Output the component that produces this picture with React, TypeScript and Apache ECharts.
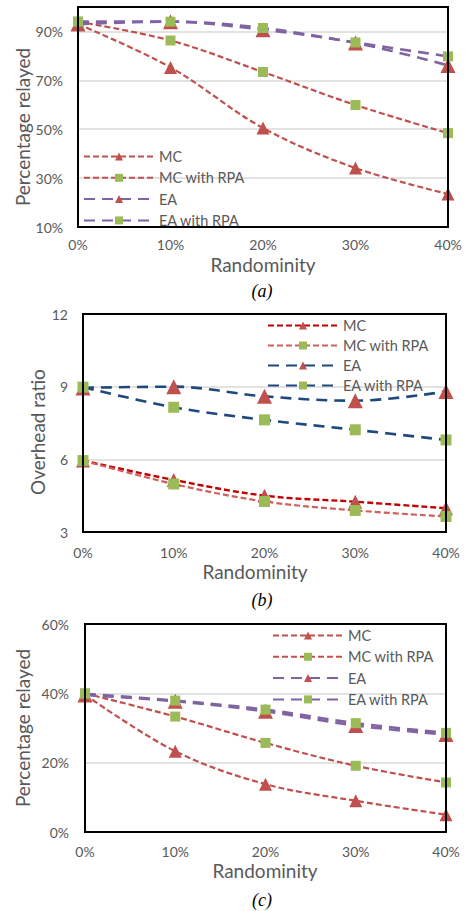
import React, { useEffect, useRef } from "react";
import * as echarts from "echarts";

const categories = ["0%", "10%", "20%", "30%", "40%"];
const seriesNames = ["MC", "MC with RPA", "EA", "EA with RPA"];

// (a) Percentage relayed
const aMC = [93, 75.3, 50.5, 34.1, 23.5];
const aMCRPA = [94, 86.3, 73.4, 59.9, 48.4];
const aEA = [93, 94, 90.7, 85.3, 76.1];
const aEARPA = [94, 94, 91.4, 85.5, 79.8];
const aGridValues = [30, 50, 70, 90];

// (b) Overhead ratio
const bMC = [5.95, 5.15, 4.5, 4.25, 3.98];
const bMCRPA = [5.95, 4.98, 4.26, 3.89, 3.64];
const bEA = [8.95, 9.0, 8.6, 8.42, 8.8];
const bEARPA = [8.98, 8.15, 7.63, 7.22, 6.8];

// (c) Percentage relayed
const cMC = [39.6, 23.3, 13.8, 9.0, 5.0];
const cMCRPA = [40, 33.3, 25.7, 19.1, 14.3];
const cEA = [39.5, 37.7, 34.8, 30.7, 28.1];
const cEARPA = [39.9, 37.9, 35.3, 31.4, 28.6];

const FONT = "Lato";
const GREY = "#595959";
const RED = "#C0504D";
const GREEN = "#9BBB59";
const PURPLE = "#8064A2";
const DARKRED = "#C00000";
const LIGHTRED = "#D0605C";
const BLUE = "#1F497D";

export default function App() {
  const ref = useRef<HTMLDivElement>(null);
  useEffect(() => {
    const chart = echarts.init(ref.current!, null, { renderer: "svg" });

    const mk = (
      prefix: string,
      idx: number,
      name: string,
      data: number[],
      lineColor: string,
      dash: number[],
      width: number,
      symbol: string,
      symbolSize: number,
      symbolColor: string,
      extra: any = {}
    ) => ({
      type: "line",
      name: prefix + "|" + name,
      xAxisIndex: idx,
      yAxisIndex: idx,
      data,
      smooth: 0.35,
      clip: false,
      symbol,
      symbolSize,
      itemStyle: { color: symbolColor },
      lineStyle: { color: lineColor, width, type: dash, cap: "butt" },
      z: 3,
      ...extra,
    });

    const SHORT = [6, 3];
    const LONG = [11, 7];

    const series: any[] = [
      mk("a", 0, seriesNames[0], aMC, RED, SHORT, 2.2, "triangle", 13, RED, {
        markLine: {
          silent: true,
          symbol: "none",
          z: 1,
          label: { show: false },
          lineStyle: { color: "#d9d9d9", width: 1.5, type: "solid" },
          data: aGridValues.map((v) => ({ yAxis: v })),
        },
      }),
      mk("a", 0, seriesNames[1], aMCRPA, RED, SHORT, 2.2, "rect", 10, GREEN),
      mk("a", 0, seriesNames[2], aEA, PURPLE, LONG, 2.6, "triangle", 15, RED),
      mk("a", 0, seriesNames[3], aEARPA, PURPLE, LONG, 2.6, "rect", 10, GREEN),

      mk("b", 1, seriesNames[0], bMC, DARKRED, SHORT, 2.4, "triangle", 14, RED),
      mk("b", 1, seriesNames[1], bMCRPA, LIGHTRED, SHORT, 2.2, "rect", 11, GREEN),
      mk("b", 1, seriesNames[2], bEA, BLUE, LONG, 2.6, "triangle", 15, RED),
      mk("b", 1, seriesNames[3], bEARPA, BLUE, LONG, 2.6, "rect", 11, GREEN),

      mk("c", 2, seriesNames[0], cMC, RED, SHORT, 2.2, "triangle", 13, RED),
      mk("c", 2, seriesNames[1], cMCRPA, RED, SHORT, 2.2, "rect", 10, GREEN),
      mk("c", 2, seriesNames[2], cEA, PURPLE, LONG, 2.6, "triangle", 15, RED),
      mk("c", 2, seriesNames[3], cEARPA, PURPLE, LONG, 2.6, "rect", 10, GREEN),
    ];

    const grids = [
      { left: 78, top: 7, width: 370, height: 220 },
      { left: 83, top: 314, width: 363, height: 218 },
      { left: 85, top: 624, width: 361, height: 208 },
    ].map((g) => ({
      ...g,
      show: true,
      borderColor: "#000",
      borderWidth: 2,
      backgroundColor: "transparent",
      z: 4,
    }));

    const xMargins = [11, 14, 13];
    const xAxes = [0, 1, 2].map((i) => ({
      type: "category",
      gridIndex: i,
      data: categories,
      boundaryGap: false,
      axisLine: { show: false },
      axisTick: { show: false },
      splitLine: { show: false },
      axisLabel: { color: GREY, fontFamily: FONT, fontSize: 14, lineHeight: 13, margin: xMargins[i] },
    }));

    const yBase = {
      type: "value",
      axisLine: { show: false },
      axisTick: { show: false },
      splitLine: { show: true, lineStyle: { color: "#d9d9d9", width: 1.5 } },
    };

    const yAxes = [
      {
        ...yBase,
        gridIndex: 0,
        min: 10,
        max: 100,
        interval: 10,
        splitLine: { show: false },
        axisLabel: {
          color: GREY,
          fontFamily: FONT,
          fontSize: 14,
          margin: 15,
          formatter: (v: number) => ((v - 10) % 20 === 0 && v < 100 ? v + "%" : ""),
        },
      },
      {
        ...yBase,
        gridIndex: 1,
        min: 3,
        max: 12,
        interval: 3,
        axisLabel: { color: GREY, fontFamily: FONT, fontSize: 14, margin: 15 },
      },
      {
        ...yBase,
        gridIndex: 2,
        min: 0,
        max: 60,
        interval: 20,
        axisLabel: {
          color: GREY,
          fontFamily: FONT,
          fontSize: 14,
          margin: 16,
          formatter: (v: number) => v + "%",
        },
      },
    ];

    const legendBase = {
      orient: "vertical",
      itemWidth: 70,
      itemHeight: 10,
      padding: 0,
      selectedMode: false,
      formatter: (n: string) => n.split("|")[1],
      textStyle: { color: GREY, fontFamily: FONT, fontSize: 14.5, lineHeight: 14 },
    };
    const legends = [
      { ...legendBase, left: 83, top: 149, itemGap: 6.3, data: seriesNames.map((n) => "a|" + n) },
      { ...legendBase, left: 267, top: 318, itemGap: 5, data: seriesNames.map((n) => "b|" + n) },
      { ...legendBase, left: 272, top: 628, itemGap: 6.3, data: seriesNames.map((n) => "c|" + n) },
    ];

    const title = (text: string, x: number, y: number, rot = 0) => ({
      type: "text",
      x,
      y,
      rotation: rot,
      style: {
        text,
        fill: GREY,
        font: `19px ${FONT}`,
        lineHeight: 14,
        align: "center",
        verticalAlign: "middle",
      },
    });
    const caption = (text: string, x: number, y: number) => ({
      type: "text",
      x,
      y,
      style: {
        text,
        fill: "#000",
        font: `italic 18px "Liberation Serif"`,
        align: "center",
        verticalAlign: "middle",
      },
    });

    chart.setOption({
      animation: false,
      grid: grids,
      xAxis: xAxes,
      yAxis: yAxes,
      legend: legends,
      series,
      graphic: [
        title("Percentage relayed", 22, 127, Math.PI / 2),
        title("Randominity", 263, 264.5),
        caption("(a)", 262, 291),
        title("Overhead ratio", 37, 432, Math.PI / 2),
        title("Randominity", 255, 571),
        caption("(b)", 262, 600),
        title("Percentage relayed", 22, 728, Math.PI / 2),
        title("Randominity", 265, 870),
        caption("(c)", 262, 900),
      ],
    });
    return () => chart.dispose();
  }, []);
  return (
    <div
      ref={ref}
      style={{ position: "absolute", left: 0, top: 0, width: 466, height: 911 }}
    />
  );
}
